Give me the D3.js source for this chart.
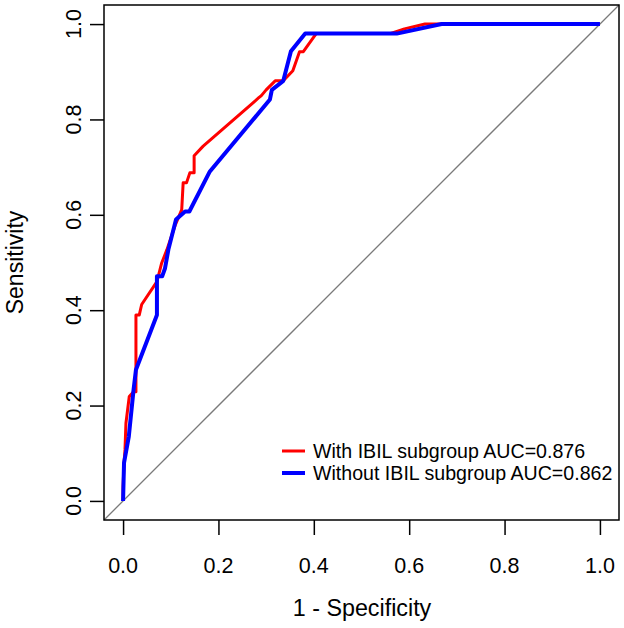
<!DOCTYPE html>
<html>
<head>
<meta charset="utf-8">
<script src="https://cdn.jsdelivr.net/npm/d3@7"></script>
<style>
  html, body { margin: 0; padding: 0; background: #fff; }
  svg { display: block; }
  text { font-family: "Liberation Sans", Arial, sans-serif; fill: #000; }
</style>
</head>
<body>
<svg id="chart" width="624" height="628"></svg>
<script>
// ---- data ----
const xTicks = [0.0, 0.2, 0.4, 0.6, 0.8, 1.0];
const yTicks = [0.0, 0.2, 0.4, 0.6, 0.8, 1.0];
const seriesNames = ["With IBIL subgroup AUC=0.876", "Without IBIL subgroup AUC=0.862"];
const seriesColors = ["#ff0000", "#0000ff"];
// [1 - specificity, sensitivity]
const withIBIL = [
  [0, 0], [0, 0.03], [0.002, 0.079], [0.004, 0.107], [0.006, 0.163], [0.013, 0.219],
  [0.022, 0.229], [0.027, 0.229], [0.027, 0.39], [0.034, 0.39], [0.039, 0.412],
  [0.071, 0.46], [0.081, 0.499], [0.092, 0.527], [0.11, 0.58], [0.123, 0.611],
  [0.126, 0.667], [0.133, 0.667], [0.14, 0.688], [0.149, 0.688], [0.149, 0.724],
  [0.168, 0.744], [0.284, 0.845], [0.29, 0.85], [0.3, 0.862], [0.319, 0.881],
  [0.336, 0.881], [0.356, 0.902], [0.37, 0.942], [0.378, 0.942], [0.405, 0.98],
  [0.56, 0.98], [0.59, 0.99], [0.633, 1.0], [1.0, 1.0]
];
const withoutIBIL = [
  [0, 0], [0.002, 0.08], [0.012, 0.135], [0.022, 0.233], [0.027, 0.275],
  [0.071, 0.39], [0.071, 0.471], [0.082, 0.471], [0.088, 0.488], [0.095, 0.527],
  [0.111, 0.59], [0.13, 0.607], [0.139, 0.607], [0.182, 0.691], [0.308, 0.842],
  [0.312, 0.862], [0.336, 0.881], [0.352, 0.943], [0.382, 0.98], [0.574, 0.98],
  [0.668, 1.0], [1.0, 1.0]
];
const series = [withIBIL, withoutIBIL];
const seriesWidths = [3, 4];

// ---- layout ----
const svg = d3.select("#chart");
const x = d3.scaleLinear().domain([-0.04, 1.04]).range([104, 619]);
const y = d3.scaleLinear().domain([-0.04, 1.04]).range([520, 5]);

// diagonal reference
svg.append("line")
  .attr("x1", x(-0.04)).attr("y1", y(-0.04))
  .attr("x2", x(1.04)).attr("y2", y(1.04))
  .attr("stroke", "#7a7a7a").attr("stroke-width", 1.3);

// curves
const line = d3.line().x(d => x(d[0])).y(d => y(d[1]));
series.forEach((s, i) => {
  svg.append("path")
    .attr("d", line(s))
    .attr("fill", "none")
    .attr("stroke", seriesColors[i])
    .attr("stroke-width", seriesWidths[i])
    .attr("stroke-linejoin", "round");
});

// box
svg.append("rect")
  .attr("x", 104).attr("y", 5).attr("width", 515).attr("height", 515)
  .attr("fill", "none").attr("stroke", "#000").attr("stroke-width", 1.5);

// axes
const xAxis = svg.append("g").attr("transform", "translate(0,520)")
  .call(d3.axisBottom(x).tickValues(xTicks).tickSize(15).tickFormat(d3.format(".1f")));
xAxis.select(".domain").remove();
xAxis.selectAll("line").attr("stroke", "#000").attr("stroke-width", 1.5);
xAxis.selectAll("text").remove();
xTicks.forEach(t => {
  svg.append("text").attr("x", x(t)).attr("y", 573)
    .attr("text-anchor", "middle").attr("font-size", 21.5)
    .text(d3.format(".1f")(t));
});

const yAxis = svg.append("g").attr("transform", "translate(104,0)")
  .call(d3.axisLeft(y).tickValues(yTicks).tickSize(14).tickFormat(d3.format(".1f")));
yAxis.select(".domain").remove();
yAxis.selectAll("line").attr("stroke", "#000").attr("stroke-width", 1.5);
yAxis.selectAll("text").remove();
yTicks.forEach(t => {
  svg.append("text")
    .attr("transform", `translate(81,${y(t)}) rotate(-90)`)
    .attr("text-anchor", "middle").attr("font-size", 21.5)
    .text(d3.format(".1f")(t));
});

// axis titles
svg.append("text").attr("x", 362).attr("y", 616)
  .attr("text-anchor", "middle").attr("font-size", 23.3).text("1 - Specificity");
svg.append("text")
  .attr("transform", "translate(23,262.5) rotate(-90)")
  .attr("text-anchor", "middle").attr("font-size", 23).text("Sensitivity");

// legend
const legendY = [451, 473];
seriesNames.forEach((name, i) => {
  svg.append("line")
    .attr("x1", 282).attr("x2", 305)
    .attr("y1", legendY[i]).attr("y2", legendY[i])
    .attr("stroke", seriesColors[i]).attr("stroke-width", seriesWidths[i]);
  svg.append("text").attr("x", 313).attr("y", legendY[i] + 7)
    .attr("font-size", 19.6).text(name);
});
</script>
</body>
</html>
